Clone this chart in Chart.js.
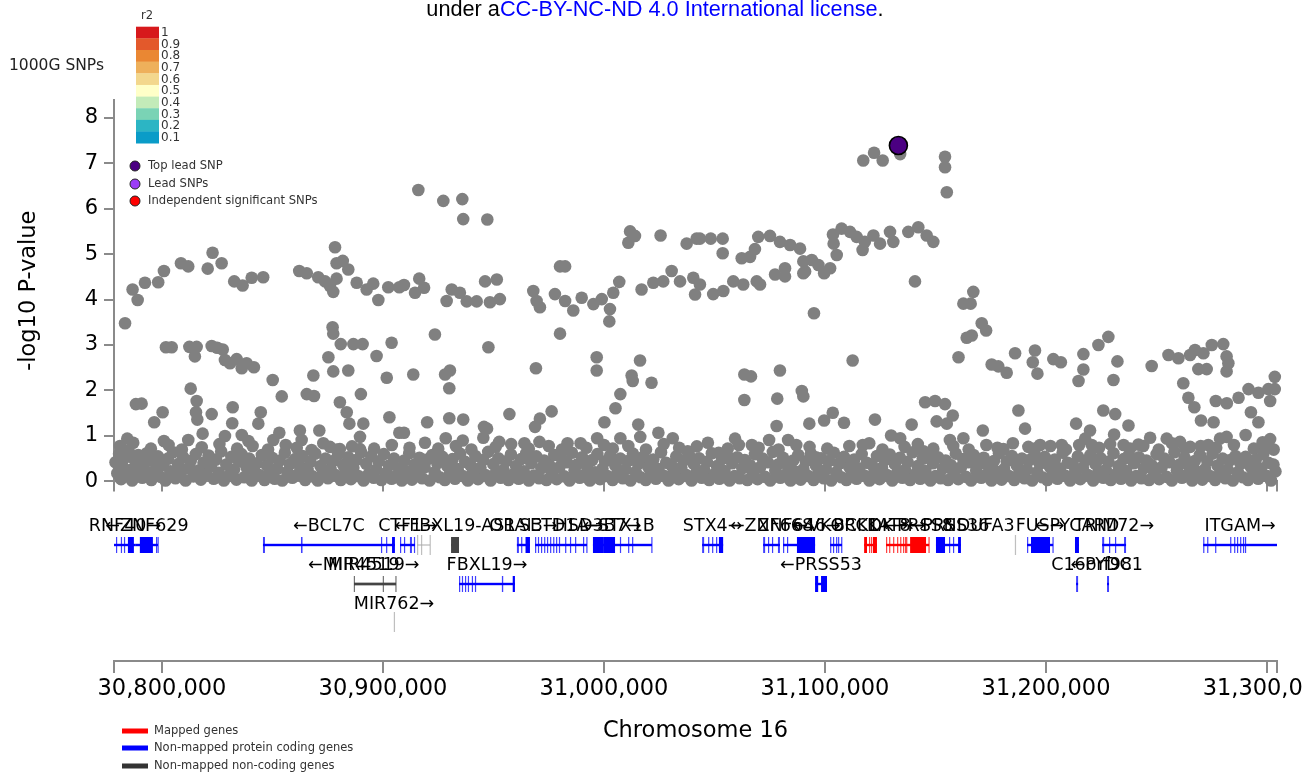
<!DOCTYPE html>
<html><head><meta charset="utf-8">
<script src="https://cdn.jsdelivr.net/npm/chart.js@4.4.0/dist/chart.umd.min.js"></script>
<style>
html,body{margin:0;padding:0;background:#fff;width:1303px;height:774px;overflow:hidden;position:relative;}
#c1{position:absolute;left:0;top:0;}
#c2{position:absolute;left:0;top:500px;}
#lic{position:absolute;top:-2px;left:0;width:1310px;text-align:center;font-family:"Liberation Sans",Arial,sans-serif;font-size:21.7px;line-height:21px;color:#000;white-space:nowrap;z-index:2;}
#lic span{color:#0000ff;}
</style></head><body>
<div id="lic">under a<span>CC-BY-NC-ND 4.0 International license</span>.</div>
<canvas id="c1" width="1303" height="500"></canvas>
<canvas id="c2" width="1303" height="274"></canvas>
<script>
// ---------- axis ----------
const xMinKb = 30778.3, xMaxKb = 31304.5;
const xTickKb = [30800, 30900, 31000, 31100, 31200, 31300];
const yMax = 8.39;

// ---------- SNPs: [position (kb), -log10 P] ----------
const topLeadSnp = [[31133.2, 7.39]];

const highSnps = [
[30783.3,3.48],[30786.7,4.22],[30789.0,3.99],[30792.3,4.37],[30798.3,4.38],[30800.9,4.63],[30808.6,4.80],[30811.9,4.73],[30820.7,4.68],[30822.9,5.03],[30827.0,4.80],[30832.7,4.40],[30836.5,4.31],[30840.6,4.48],[30845.8,4.49],[30862.1,4.63],[30865.5,4.58],[30870.7,4.49],[30873.8,4.40],[30876.0,4.30],[30877.5,4.17],[30879.0,4.46],[30878.3,5.15],[30879.0,4.80],[30881.8,4.85],[30884.3,4.66],[30888.1,4.37],[30892.6,4.22],[30895.6,4.35],[30897.9,3.99],[30902.4,4.27],[30907.4,4.27],
[30877.2,3.39],[30877.5,3.25],[30880.9,3.02],[30886.6,3.02],[30890.8,3.02],[30903.9,3.05],
[30916.0,6.41],[30927.3,6.17],[30935.9,6.21],[30936.3,5.77],[30947.2,5.76],
[30909.5,4.32],[30914.5,4.15],[30916.4,4.46],[30918.6,4.26],[30928.8,3.97],[30931.1,4.22],[30934.8,4.15],[30937.9,3.96],[30942.4,3.96],[30946.2,4.40],[30948.4,3.94],[30951.5,4.44],[30952.9,4.01],[30968.0,4.19],[30969.5,3.97],[30971.0,3.83],[30977.8,4.12],[30980.1,4.73],[30982.4,4.73],[30982.4,3.97],[30986.1,3.76],[30989.9,4.04],[30995.2,3.90],[30999.0,4.01],[31002.7,3.79],[31002.4,3.52],[31004.2,4.15],[31006.9,4.39],[31011.8,5.50],[31014.0,5.40],[31011.0,5.25],[31025.6,5.41],[31037.4,5.23],[31041.9,5.34],[31017.0,4.22],[31022.3,4.37],[31026.8,4.40],[31030.6,4.63],[31034.4,4.40],[31040.4,4.48],[31041.2,4.11],[30923.5,3.23],[30980.1,3.25],
[31117.3,7.06],[31122.2,7.23],[31126.1,7.06],[31134.0,7.20],[31154.3,7.14],[31154.3,6.91],[31155.1,6.36],
[31043.4,5.34],[31048.3,5.34],[31053.7,5.34],[31053.7,5.02],[31062.3,4.91],[31066.1,4.94],[31068.3,5.11],[31069.8,5.38],[31075.1,5.40],[31079.6,5.27],[31084.2,5.20],[31088.7,5.12],[31090.2,4.84],[31091.0,4.62],[31094.0,4.87],[31097.0,4.76],[31099.6,4.58],[31102.3,4.69],[31081.9,4.69],[31077.4,4.55],[31081.9,4.51],[31090.2,4.58],[31103.6,5.43],[31103.9,5.23],[31105.3,4.98],[31107.5,5.56],[31111.3,5.49],[31114.3,5.38],[31117.0,5.09],[31118.0,5.27],[31121.9,5.41],[31124.9,5.23],[31129.4,5.49],[31130.9,5.27],[31137.7,5.49],[31142.2,5.59],[31146.0,5.41],[31149.0,5.27],[31140.7,4.40],
[31043.4,4.33],[31049.4,4.12],[31054.0,4.19],[31058.5,4.40],[31063.0,4.33],[31069.1,4.40],[31070.6,4.33],
[31095.0,3.70],[31167.1,4.17],[31162.6,3.91],[31165.9,3.91],[31170.9,3.48],[31172.9,3.32],[31164.1,3.16],[31166.4,3.21],[31223.7,3.00],[31228.2,3.18],[31275.0,3.00],[31280.2,3.02]
];

const midSnps = [
[30801.8,2.95],[30804.4,2.95],[30812.4,2.96],[30815.7,2.96],[30814.9,2.75],[30822.5,2.98],[30825.0,2.94],[30827.5,2.90],[30828.5,2.67],[30830.8,2.60],[30833.8,2.69],[30836.1,2.49],[30838.3,2.60],[30841.6,2.51],[30850.1,2.23],[30854.2,1.87],[30865.5,1.92],[30868.8,1.88],[30868.5,2.33],[30875.3,2.73],[30877.5,2.42],[30884.3,2.44],[30897.1,2.76],[30901.7,2.28],[30890.0,1.92],
[30788.2,1.70],[30790.8,1.71],[30796.5,1.30],[30800.3,1.52],[30784.3,0.94],[30800.9,0.89],[30813.0,2.04],[30815.7,1.77],[30815.4,1.52],[30816.0,1.36],[30822.5,1.48],[30832.0,1.63],[30831.8,1.28],[30828.5,1.00],[30818.4,1.05],[30811.9,0.91],[30844.7,1.52],[30843.6,1.27],[30836.1,1.02],[30839.1,0.89],[30853.1,1.07],[30850.4,0.91],[30862.4,1.12],[30863.2,0.91],[30871.2,1.12],[30867.7,0.69],[30880.5,1.74],[30883.6,1.52],[30884.8,1.27],[30891.1,1.27],[30889.6,0.98],[30889.6,0.71],[30902.9,1.41],[30907.4,1.07],[30880.5,0.71],[30876.0,0.76],
[30947.7,2.95],[30913.7,2.35],[30928.1,2.35],[30930.3,2.44],[30930.0,2.05],[30969.2,2.49],[30996.7,2.73],[30996.7,2.44],[31016.3,2.66],[31012.5,2.33],[31013.0,2.21],[31021.5,2.17],[31007.4,1.92],[31005.2,1.61],[31000.2,1.30],[31015.5,1.25],[30957.2,1.48],[30976.3,1.54],[30971.0,1.38],[30968.8,1.20],[30920.0,1.30],[30930.0,1.39],[30936.3,1.36],[30945.7,1.20],[30945.4,0.96],[30909.5,1.07],[30952.6,0.87],[31024.6,1.07],
[30928.4,0.95],[30936.1,0.90],[30947.1,1.16],[30964.0,0.84],[30970.8,0.87],[30983.5,0.84],[30989.4,0.84],[30996.9,0.95],[31007.4,0.95],[31016.4,0.98],[31031.1,0.95],[31037.9,0.66],
[31112.5,2.66],[31063.5,2.35],[31066.5,2.31],[31079.6,2.44],[31063.5,1.79],[31078.4,1.82],[31089.5,1.99],[31090.2,1.87],[31145.3,1.74],[31149.8,1.77],[31154.3,1.70],[31157.8,1.45],[31150.5,1.32],[31155.1,1.27],[31171.4,1.12],[31103.5,1.51],[31099.6,1.34],[31092.9,1.27],[31108.6,1.29],[31122.6,1.36],[31139.2,1.25],[31078.1,1.22],[31059.3,0.94],[31095.9,0.53],[31160.4,2.73],[31175.4,2.57],[31178.4,2.53],
[31083.3,0.91],[31117.1,0.80],[31129.9,1.01],[31134.0,0.95],[31144.6,0.66],[31156.5,0.91],[31162.6,0.95],[31074.7,0.91],[31066.9,0.80],[31051.9,0.63],
[31182.2,2.39],[31186.0,2.82],[31195.0,2.88],[31194.0,2.62],[31196.1,2.37],[31203.3,2.69],[31206.7,2.62],[31216.9,2.80],[31216.9,2.46],[31214.7,2.21],[31232.3,2.64],[31230.5,2.23],[31247.8,2.54],[31255.4,2.78],[31259.9,2.71],[31265.2,2.78],[31267.4,2.89],[31271.2,2.82],[31281.7,2.75],[31282.5,2.60],[31268.9,2.47],[31272.7,2.47],[31281.7,2.42],[31262.1,2.16],[31264.4,1.84],[31267.1,1.63],[31270.1,1.34],[31275.8,1.30],[31276.8,1.77],[31281.8,1.72],[31287.1,1.84],[31291.6,2.03],[31296.1,1.95],[31300.6,2.03],[31303.5,2.30],[31303.5,2.03],[31301.4,1.77],[31292.7,1.52],[31296.1,1.30],[31290.3,1.02],[31301.4,0.93],[31299.1,0.76],[31281.7,0.98],[31278.7,0.94],[31273.4,0.80],[31265.2,0.76],[31260.6,0.87],[31254.6,0.94],[31247.1,0.96],[31241.8,0.81],[31237.3,1.23],[31235.1,0.80],[31231.3,1.48],[31230.8,1.03],[31225.9,1.56],[31219.9,1.12],[31220.7,0.80],[31213.6,1.27],[31217.7,0.94],[31207.1,0.80],[31197.3,0.80],[31192.0,0.76],[31190.5,1.16],[31187.5,1.56],[31180.7,0.71]
];

const lowSnps = [
[30779.0,0.42],[30779.8,0.18],[30780.6,0.60],[30781.5,0.05],[30782.2,0.33],[30783.1,0.52],[30784.0,0.12],[30784.9,0.68],[30785.7,0.25],[30786.5,0.02],[30787.6,0.47],[30788.4,0.15],[30789.3,0.58],[30790.2,0.30],[30791.1,0.08],[30792.0,0.40],[30793.1,0.62],[30794.0,0.20],[30795.2,0.03],[30796.1,0.45],[30797.3,0.27],[30798.2,0.55],[30799.4,0.10],[30800.5,0.36],[30801.6,0.02],[30802.7,0.50],[30803.8,0.22],[30805.0,0.64],[30806.1,0.07],[30807.3,0.38],[30808.4,0.18],[30809.6,0.53],[30810.7,0.02],[30811.9,0.29],[30813.0,0.45],[30814.2,0.11],[30815.3,0.60],[30816.5,0.24],[30817.6,0.04],[30818.8,0.41],[30819.9,0.16],[30821.1,0.57],[30822.2,0.33],[30823.4,0.06],[30824.5,0.48],[30825.7,0.19],[30826.8,0.66],[30828.0,0.02],[30829.1,0.37],[30830.3,0.13],[30831.4,0.54],[30832.6,0.26],[30833.7,0.04],[30834.9,0.44],[30836.0,0.60],[30837.2,0.09],[30838.3,0.31],[30839.5,0.50],[30840.6,0.02],[30841.8,0.22],[30842.9,0.40],[30844.1,0.14],[30845.2,0.58],[30846.4,0.03],[30847.5,0.35],[30848.7,0.17],[30849.8,0.52],[30851.0,0.06],[30852.1,0.28],[30853.3,0.46],[30854.4,0.02],[30855.6,0.63],[30856.7,0.21],[30857.9,0.38],[30859.0,0.08],[30860.2,0.49],[30861.3,0.15],[30862.5,0.32],[30863.6,0.56],[30864.8,0.03],[30865.9,0.25],[30867.1,0.43],[30868.2,0.11],[30869.4,0.61],[30870.5,0.02],[30871.7,0.34],[30872.8,0.18],[30874.0,0.50],[30875.1,0.07],[30876.3,0.27],[30877.4,0.45],[30878.6,0.14],[30879.7,0.59],[30880.9,0.03],[30882.0,0.36],[30883.2,0.20],[30884.3,0.53],[30885.5,0.05],[30886.6,0.30],[30887.8,0.47],[30888.9,0.12],[30890.1,0.64],[30891.2,0.02],[30892.4,0.39],[30893.5,0.16],[30894.7,0.55],[30895.8,0.08],[30897.0,0.26],[30898.1,0.44],[30899.3,0.03],[30900.4,0.60],[30901.6,0.19],[30902.7,0.35],[30903.9,0.06],[30905.0,0.50],[30906.2,0.13],[30907.3,0.28],[30908.5,0.02],[30909.6,0.46],[30910.8,0.22],[30911.9,0.62],[30913.1,0.04],[30914.2,0.37],[30915.4,0.15],[30916.5,0.52],[30917.7,0.07],[30918.8,0.31],[30920.0,0.48],[30921.1,0.02],[30922.3,0.58],[30923.4,0.20],[30924.6,0.40],[30925.7,0.09],[30926.9,0.54],[30928.0,0.03],[30929.2,0.33],[30930.3,0.17],[30931.5,0.49],[30932.6,0.06],[30933.8,0.27],[30934.9,0.61],[30936.1,0.12],[30937.2,0.43],[30938.4,0.02],[30939.5,0.36],[30940.7,0.21],[30941.8,0.56],[30943.0,0.05],[30944.1,0.30],[30945.3,0.47],[30946.4,0.14],[30947.6,0.65],[30948.7,0.02],[30949.9,0.38],[30951.0,0.18],[30952.2,0.51],[30953.3,0.08],[30954.5,0.25],[30955.6,0.44],[30956.8,0.03],[30957.9,0.59],[30959.1,0.16],[30960.2,0.34],[30961.4,0.06],[30962.5,0.49],[30963.7,0.22],[30964.8,0.62],[30966.0,0.02],[30967.1,0.40],[30968.3,0.13],[30969.4,0.55],[30970.6,0.07],[30971.7,0.29],[30972.9,0.46],[30974.0,0.03],[30975.2,0.36],[30976.3,0.19],[30977.5,0.58],[30978.6,0.05],[30979.8,0.31],[30980.9,0.50],[30982.1,0.11],[30983.2,0.42],[30984.4,0.02],[30985.5,0.63],[30986.7,0.24],[30987.8,0.37],[30989.0,0.08],[30990.1,0.53],[30991.3,0.15],[30992.4,0.33],[30993.6,0.02],[30994.7,0.47],[30995.9,0.20],[30997.0,0.60],[30998.2,0.05],[30999.3,0.28],[31000.5,0.44],[31001.6,0.12],[31002.8,0.57],[31003.9,0.03],[31005.1,0.35],[31006.2,0.18],[31007.4,0.50],[31008.5,0.07],[31009.7,0.26],[31010.8,0.45],[31012.0,0.02],[31013.1,0.61],[31014.3,0.21],[31015.4,0.39],[31016.6,0.09],[31017.7,0.54],[31018.9,0.03],[31020.0,0.32],[31021.2,0.17],[31022.3,0.48],[31023.5,0.06],[31024.6,0.27],[31025.8,0.64],[31026.9,0.13],[31028.1,0.41],[31029.2,0.02],[31030.4,0.36],[31031.5,0.22],[31032.7,0.55],[31033.8,0.05],[31035.0,0.30],[31036.1,0.46],[31037.3,0.14],[31038.4,0.59],[31039.6,0.02],[31040.7,0.38],[31041.9,0.19],[31043.0,0.51],[31044.2,0.08],[31045.3,0.25],[31046.5,0.43],[31047.6,0.03],[31048.8,0.62],[31049.9,0.16],[31051.1,0.34],[31052.2,0.06],[31053.4,0.49],[31054.5,0.23],[31055.7,0.57],[31056.8,0.02],[31058.0,0.40],[31059.1,0.12],[31060.3,0.53],[31061.4,0.07],[31062.6,0.29],[31063.7,0.47],[31064.9,0.03],[31066.0,0.36],[31067.2,0.20],[31068.3,0.60],[31069.5,0.05],[31070.6,0.31],[31071.8,0.50],[31072.9,0.10],[31074.1,0.42],[31075.2,0.02],[31076.4,0.65],[31077.5,0.24],[31078.7,0.37],[31079.8,0.08],[31081.0,0.52],[31082.1,0.15],[31083.3,0.33],[31084.4,0.02],[31085.6,0.46],[31086.7,0.21],[31087.9,0.58],[31089.0,0.04],[31090.2,0.27],[31091.3,0.44],[31092.5,0.12],[31093.6,0.61],[31094.8,0.03],[31095.9,0.35],[31097.1,0.18],[31098.2,0.51],[31099.4,0.07],[31100.5,0.26],[31101.7,0.45],[31102.8,0.02],[31104.0,0.63],[31105.1,0.20],[31106.3,0.39],[31107.4,0.09],[31108.6,0.54],[31109.7,0.03],[31110.9,0.32],[31112.0,0.17],[31113.2,0.48],[31114.3,0.06],[31115.5,0.28],[31116.6,0.60],[31117.8,0.13],[31118.9,0.41],[31120.1,0.02],[31121.2,0.37],[31122.4,0.22],[31123.5,0.56],[31124.7,0.05],[31125.8,0.30],[31127.0,0.47],[31128.1,0.14],[31129.3,0.59],[31130.4,0.02],[31131.6,0.38],[31132.7,0.19],[31133.9,0.52],[31135.0,0.08],[31136.2,0.25],[31137.3,0.43],[31138.5,0.03],[31139.6,0.64],[31140.8,0.16],[31141.9,0.34],[31143.1,0.06],[31144.2,0.50],[31145.4,0.23],[31146.5,0.57],[31147.7,0.02],[31148.8,0.40],[31150.0,0.12],[31151.1,0.53],[31152.3,0.07],[31153.4,0.29],[31154.6,0.46],[31155.7,0.03],[31156.9,0.36],[31158.0,0.20],[31159.2,0.61],[31160.3,0.05],[31161.5,0.31],[31162.6,0.49],[31163.8,0.10],[31164.9,0.42],[31166.1,0.02],[31167.2,0.58],[31168.4,0.24],[31169.5,0.37],[31170.7,0.08],[31171.8,0.52],[31173.0,0.15],[31174.1,0.33],[31175.3,0.02],[31176.4,0.45],[31177.6,0.21],[31178.7,0.62],[31179.9,0.04],[31181.0,0.27],[31182.2,0.44],[31183.3,0.12],[31184.5,0.56],[31185.6,0.03],[31186.8,0.35],[31187.9,0.18],[31189.1,0.50],[31190.2,0.07],[31191.4,0.26],[31192.5,0.47],[31193.7,0.02],[31194.8,0.60],[31196.0,0.20],[31197.1,0.39],[31198.3,0.09],[31199.4,0.54],[31200.6,0.03],[31201.7,0.32],[31202.9,0.17],[31204.0,0.48],[31205.2,0.06],[31206.3,0.28],[31207.5,0.63],[31208.6,0.13],[31209.8,0.41],[31210.9,0.02],[31212.1,0.37],[31213.2,0.22],[31214.4,0.55],[31215.5,0.05],[31216.7,0.30],[31217.8,0.46],[31219.0,0.14],[31220.1,0.58],[31221.3,0.02],[31222.4,0.38],[31223.6,0.19],[31224.7,0.51],[31225.9,0.08],[31227.0,0.25],[31228.2,0.43],[31229.3,0.03],[31230.5,0.62],[31231.6,0.16],[31232.8,0.34],[31233.9,0.06],[31235.1,0.49],[31236.2,0.23],[31237.4,0.57],[31238.5,0.02],[31239.7,0.40],[31240.8,0.12],[31242.0,0.53],[31243.1,0.07],[31244.3,0.29],[31245.4,0.46],[31246.6,0.03],[31247.7,0.36],[31248.9,0.20],[31250.0,0.60],[31251.2,0.05],[31252.3,0.31],[31253.5,0.50],[31254.6,0.10],[31255.8,0.42],[31256.9,0.02],[31258.1,0.64],[31259.2,0.24],[31260.4,0.37],[31261.5,0.08],[31262.7,0.52],[31263.8,0.15],[31265.0,0.33],[31266.1,0.02],[31267.3,0.45],[31268.4,0.21],[31269.6,0.58],[31270.7,0.04],[31271.9,0.27],[31273.0,0.44],[31274.2,0.12],[31275.3,0.61],[31276.5,0.03],[31277.6,0.35],[31278.8,0.18],[31279.9,0.50],[31281.1,0.07],[31282.2,0.26],[31283.4,0.47],[31284.5,0.02],[31285.7,0.56],[31286.8,0.20],[31288.0,0.39],[31289.1,0.09],[31290.3,0.54],[31291.4,0.03],[31292.6,0.32],[31293.7,0.17],[31294.9,0.48],[31296.0,0.06],[31297.2,0.28],[31298.3,0.60],[31299.5,0.13],[31300.6,0.41],[31301.8,0.02],[31302.9,0.37],[31303.8,0.22]
];

const bandTopSnps = [
[30781.0,0.78],[30787.0,0.85],[30795.0,0.72],[30803.0,0.80],[30809.0,0.70],[30818.0,0.75],[30826.0,0.82],[30834.0,0.72],[30841.0,0.78],[30848.0,0.70],[30856.0,0.80],[30861.0,0.74],[30873.0,0.84],[30879.0,0.70],[30886.0,0.77],[30896.0,0.72],[30904.0,0.80],[30912.0,0.74],[30919.0,0.85],[30925.0,0.72],[30933.0,0.78],[30940.0,0.70],[30951.0,0.76],[30958.0,0.82],[30966.0,0.72],[30975.0,0.78],[30981.0,0.70],[30992.0,0.74],[31000.0,0.80],[31004.0,0.72],[31011.0,0.78],[31019.0,0.70],[31027.0,0.82],[31034.0,0.74],[31042.0,0.77],[31047.0,0.85],[31056.0,0.72],[31061.0,0.80],[31070.0,0.74],[31079.0,0.70],[31087.0,0.80],[31093.0,0.76],[31101.0,0.72],[31111.0,0.78],[31120.0,0.84],[31126.0,0.70],[31136.0,0.76],[31142.0,0.82],[31149.0,0.72],[31158.0,0.78],[31165.0,0.70],[31173.0,0.80],[31178.0,0.74],[31185.0,0.84],[31195.0,0.72],[31202.0,0.78],[31209.0,0.70],[31215.0,0.80],[31224.0,0.74],[31229.0,0.82],[31238.0,0.72],[31244.0,0.78],[31251.0,0.70],[31257.0,0.84],[31263.0,0.72],[31270.0,0.78],[31277.0,0.74],[31285.0,0.80],[31294.0,0.72],[31298.0,0.86],[31303.0,0.70]
];

// ---------- genes ----------
const geneLabels = ["RNF40→","←ZNF629","←BCL7C","CTF1→","","←FBXL19-AS1","ORAI3→","SETD1A→","HSD3B7→","←STX1B","STX4→","←ZNF668","ZNF646→","←VKORC1","BCKDK→","KAT8→","←PRSS8","←PRSS36","NDUFA3","FUS→","←PYCARD","TRIM72→","ITGAM→",
                    "←MIR4519","MIR4519→","FBXL19→","←PRSS53","C16orf98","←PYDC1","MIR762→"];
const geneStart = [30778.3,30788.2,30845.7,30907.7,30915.4,30930.8,30960.6,30968.8,30995.0,30999.6,31044.4,31072.0,31081.0,31102.3,31117.7,31127.6,31136.7,31150.2,31186.0,31191.4,31213.1,31225.4,31271.1,
                   30886.9,30886.9,30934.4,31095.5,31213.6,31227.6,30905.0];
const geneEnd   = [30788.2,30798.2,30905.4,30914.5,30921.3,30934.4,30966.5,30992.3,30999.6,31021.7,31053.9,31079.6,31095.5,31107.7,31123.5,31136.7,31147.1,31161.5,31186.0,31203.2,31214.9,31236.2,31304.5,
                   30905.9,30905.9,30959.7,31100.9,31214.5,31228.5,30905.0];
const geneRow   = [1,1,1,1,1,1,1,1,1,1,1,1,1,1,1,1,1,1,1,1,1,1,1, 2,2,2,2,2,2,3];
const geneLabelKb = [null,null,null,null,null,null,null,null,null,31006.8,null,null,null,null,null,null,null,null,31169.7,null,null,null,null,
                     30886.8,30895.8,null,null,31220.6,31227.4,null];
// type: m = mapped, p = non-mapped protein coding, n = non-mapped non-coding, t = faint non-coding
const geneType  = ["p","p","p","p","t","n","p","p","p","p","p","p","p","p","m","m","m","p","t","p","p","p","p",
                   "n","n","p","p","p","p","t"];
const geneExons = [
 [[30779.2,30779.5],[30781.4,30781.7],[30782.8,30783.1],[30784.6,30787.3]],
 [[30790.0,30795.9],[30797.3,30797.6],[30798.0,30798.2]],
 [[30845.7,30846.6],[30862.9,30863.6],[30899.1,30899.3],[30901.4,30901.6],[30904.1,30905.4]],
 [[30907.7,30908.1],[30909.5,30909.8],[30912.2,30913.1],[30914.0,30914.5]],
 [[30915.4,30915.6],[30917.2,30917.4],[30921.1,30921.3]],
 [[30930.8,30934.4]],
 [[30960.6,30961.5],[30962.5,30963.0],[30964.5,30966.5]],
 [[30968.8,30969.1],[30970.1,30970.4],[30971.5,30971.8],[30972.9,30973.2],[30974.2,30974.5],[30975.6,30975.9],[30977.0,30977.3],[30978.3,30978.6],[30979.6,30979.9],[30982.4,30982.7],[30984.6,30984.9],[30986.9,30987.2],[30990.5,30990.8],[30992.0,30992.3]],
 [[30995.0,30999.6]],
 [[30999.6,31005.0],[31007.2,31007.5],[31010.9,31011.2],[31012.7,31013.0],[31021.4,31021.7]],
 [[31044.4,31045.3],[31047.1,31047.4],[31048.9,31049.2],[31050.7,31051.0],[31052.0,31053.9]],
 [[31072.0,31072.9],[31074.2,31074.5],[31076.0,31076.3],[31078.7,31079.6]],
 [[31081.0,31081.3],[31082.8,31083.1],[31087.3,31095.5]],
 [[31102.3,31102.6],[31103.6,31103.9],[31105.0,31105.3],[31105.9,31106.2],[31107.3,31107.7]],
 [[31117.7,31119.0],[31119.9,31120.2],[31120.8,31121.1],[31121.7,31123.5]],
 [[31127.6,31127.9],[31129.0,31129.3],[31130.8,31131.1],[31132.6,31132.9],[31134.0,31134.3],[31135.3,31135.6],[31136.2,31136.5]],
 [[31136.7,31137.0],[31138.5,31145.7],[31146.8,31147.1]],
 [[31150.2,31154.3],[31156.1,31156.4],[31157.9,31158.2],[31160.2,31161.5]],
 [[31185.9,31186.1]],
 [[31191.4,31191.7],[31193.2,31201.8],[31202.9,31203.2]],
 [[31213.1,31214.9]],
 [[31225.4,31226.3],[31228.5,31228.8],[31231.2,31231.5],[31235.3,31236.2]],
 [[31271.1,31271.3],[31272.9,31273.1],[31276.5,31276.7],[31283.3,31283.5],[31285.1,31285.3],[31286.4,31286.6],[31287.8,31288.0],[31289.1,31289.3],[31290.0,31290.2]],
 [[30886.8,30887.1],[30899.9,30900.2],[30905.6,30905.9]],
 [],
 [[30934.4,30934.7],[30935.7,30936.0],[30937.1,30937.4],[30938.4,30938.7],[30940.2,30940.5],[30941.6,30941.9],[30953.8,30954.4],[30958.7,30959.7]],
 [[31095.5,31096.9],[31098.2,31100.9]],
 [[31213.6,31214.5]],
 [[31227.6,31228.5]],
 [[30904.9,30905.1]]
];

// ---------- legends ----------
const r2Labels = ["1","0.9","0.8","0.7","0.6","0.5","0.4","0.3","0.2","0.1"];
const r2Colors = ["#d7191c","#e3592b","#ea8733","#eeb05b","#f3d78d","#ffffc8","#c3ebb9","#7ad3b5","#2cb5c4","#0a9cc8"];
const snpLegendLabels = ["Top lead SNP","Lead SNPs","Independent significant SNPs"];
const snpLegendColors = ["#4b0082","#9b3cf5","#ff0000"];
const geneLegendLabels = ["Mapped genes","Non-mapped protein coding genes","Non-mapped non-coding genes"];
const geneLegendColors = ["#ff0000","#0000ff","#333333"];

const FONT = "'DejaVu Sans', sans-serif";
const toPts = arr => arr.map(([x, y]) => ({x, y}));
const fmtKb = v => Math.round(v * 1000).toLocaleString('en-US');
const tickSet = () => [xMinKb, ...xTickKb, xMaxKb].map(v => ({value: v}));
const AXIS = '#8a8a8a';

const legendPlugin = {
  id: 'snpLegend',
  afterDraw(chart) {
    const ctx = chart.ctx;
    ctx.save();
    ctx.fillStyle = '#222';
    ctx.font = `15.5px ${FONT}`;
    ctx.textAlign = 'left'; ctx.textBaseline = 'middle';
    ctx.fillText('1000G SNPs', 9, 66);
    ctx.font = `11.5px ${FONT}`;
    ctx.textAlign = 'center';
    ctx.fillStyle = '#333';
    ctx.fillText('r2', 147, 16);
    const top = 26.7, h = 11.65;
    r2Colors.forEach((c, i) => {
      ctx.fillStyle = c;
      ctx.fillRect(136, top + i * h, 23, h + 0.3);
    });
    ctx.fillStyle = '#333';
    ctx.textAlign = 'left';
    ctx.font = `12px ${FONT}`;
    r2Labels.forEach((t, i) => ctx.fillText(t, 161, top + i * h + h / 2 + 0.5));
    ctx.font = `11.6px ${FONT}`;
    snpLegendLabels.forEach((t, i) => {
      const y = [166, 184, 201][i];
      ctx.beginPath(); ctx.arc(135, y, 5, 0, Math.PI * 2);
      ctx.fillStyle = snpLegendColors[i]; ctx.fill();
      ctx.lineWidth = 1; ctx.strokeStyle = '#222'; ctx.stroke();
      ctx.fillStyle = '#333';
      ctx.fillText(t, 148, y);
    });
    ctx.restore();
  }
};

new Chart(document.getElementById('c1'), {
  type: 'scatter',
  data: { datasets: [
    { data: toPts(topLeadSnp), backgroundColor: '#4b0082', borderColor: '#000', borderWidth: 1.6, pointRadius: 9, order: 0, clip: false },
    { data: toPts([...lowSnps, ...bandTopSnps, ...midSnps, ...highSnps]), backgroundColor: '#808080', borderWidth: 0, pointRadius: 6.3, order: 1, clip: false }
  ]},
  options: {
    responsive: false, animation: false, events: [],
    layout: { padding: { top: 100, right: 26, left: 0, bottom: 0 } },
    plugins: { legend: { display: false }, tooltip: { enabled: false } },
    scales: {
      x: { type: 'linear', min: xMinKb, max: xMaxKb,
           afterBuildTicks: s => { s.ticks = tickSet(); },
           ticks: { display: false },
           grid: { drawOnChartArea: false, drawTicks: true, tickLength: 10, color: AXIS, lineWidth: 2 },
           border: { color: AXIS, width: 2 },
           afterFit: s => { s.height = 13; } },
      y: { min: 0, max: yMax,
           ticks: { stepSize: 1, includeBounds: false, font: { family: FONT, size: 21 }, color: '#000', padding: 6 },
           grid: { drawOnChartArea: false, tickLength: 10, color: AXIS, lineWidth: 2 },
           border: { color: AXIS, width: 2 },
           title: { display: true, text: '-log10 P-value', font: { family: FONT, size: 22.5 }, color: '#000', padding: { top: 16, bottom: 0 } },
           afterFit: s => { s.width = 114; } }
    }
  },
  plugins: [legendPlugin]
});

const genePlugin = {
  id: 'genes',
  afterDraw(chart) {
    const ctx = chart.ctx, xs = chart.scales.x;
    const bodyY = [0, 45, 84, 122], labelY = [0, 26, 65, 104];
    const colors = { m: '#ff0000', p: '#0000ff', n: '#444444', t: '#aaaaaa' };
    ctx.save();
    geneLabels.forEach((lab, i) => {
      const r = geneRow[i], col = colors[geneType[i]];
      const x0 = xs.getPixelForValue(geneStart[i]), x1 = xs.getPixelForValue(geneEnd[i]);
      const by = bodyY[r];
      ctx.fillStyle = col;
      if (x1 - x0 > 0.5) ctx.fillRect(x0, by - (geneType[i] === 't' ? 0.5 : 1.2), x1 - x0, geneType[i] === 't' ? 1 : 2.4);
      geneExons[i].forEach(([s, e]) => {
        const p0 = xs.getPixelForValue(s), p1 = xs.getPixelForValue(e);
        const w = Math.max(p1 - p0, 1.2);
        ctx.globalAlpha = w < 2 ? 0.75 : 1;
        if (geneType[i] === 't') ctx.fillRect(p0, by - 10, w, 20);
        else ctx.fillRect(p0, by - 8, w, 16);
        ctx.globalAlpha = 1;
      });
      if (lab) {
        ctx.fillStyle = '#000';
        ctx.font = `17.5px ${FONT}`;
        ctx.textAlign = 'center'; ctx.textBaseline = 'middle';
        const cx = geneLabelKb[i] != null ? xs.getPixelForValue(geneLabelKb[i]) : (x0 + x1) / 2;
        ctx.fillText(lab, cx, labelY[r]);
      }
    });
    // gene legend
    ctx.font = `11.5px ${FONT}`;
    ctx.textAlign = 'left'; ctx.textBaseline = 'middle';
    geneLegendLabels.forEach((t, i) => {
      const y = [231, 248, 266][i];
      ctx.fillStyle = geneLegendColors[i];
      ctx.fillRect(122, y - 2.5, 26, 5);
      ctx.fillStyle = '#333';
      ctx.fillText(t, 154, y);
    });
    ctx.restore();
  }
};

new Chart(document.getElementById('c2'), {
  type: 'scatter',
  data: { datasets: [] },
  options: {
    responsive: false, animation: false, events: [],
    layout: { padding: { top: 0, right: 26, left: 114, bottom: 0 } },
    plugins: { legend: { display: false }, tooltip: { enabled: false } },
    scales: {
      x: { type: 'linear', min: xMinKb, max: xMaxKb,
           afterBuildTicks: s => { s.ticks = tickSet(); },
           ticks: { font: { family: FONT, size: 22.5 }, color: '#000', padding: 3, maxRotation: 0, autoSkip: false,
                    callback: v => xTickKb.includes(v) ? fmtKb(v) : '' },
           grid: { drawOnChartArea: false, drawTicks: true, tickLength: 12, color: AXIS, lineWidth: 2 },
           border: { color: AXIS, width: 2 },
           title: { display: true, text: 'Chromosome 16', font: { family: FONT, size: 22.5 }, color: '#000', padding: { top: 0, bottom: 29.5 } },
           afterFit: s => { s.height = 113; } },
      y: { display: false, min: 0, max: 1 }
    }
  },
  plugins: [genePlugin]
});
</script>
</body></html>
